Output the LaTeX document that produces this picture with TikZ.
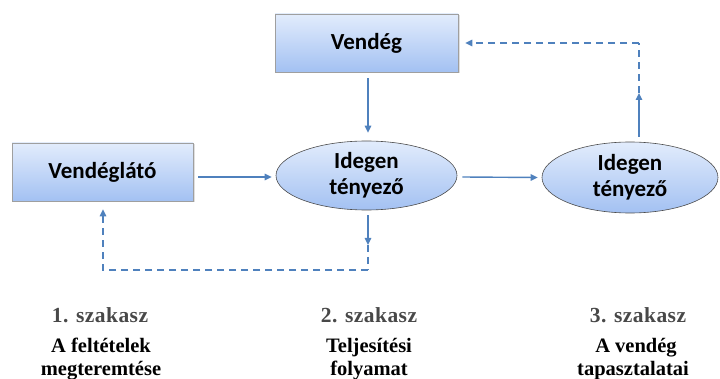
\documentclass[tikz,border=0pt]{standalone}
\usepackage{fontspec}
\setmainfont{Liberation Serif}
\newfontfamily\boxfont{Carlito}
\usetikzlibrary{arrows.meta,shapes.geometric,shadows}

\definecolor{linkblue}{RGB}{79,129,189}
\definecolor{filltop}{RGB}{226,236,252}
\definecolor{fillbottom}{RGB}{163,193,242}
\definecolor{stagegray}{RGB}{72,72,72}

\tikzset{
  actor/.style={rectangle, draw=gray!75, line width=0.7pt,
    top color=filltop, bottom color=fillbottom,
    drop shadow={opacity=0.25, shadow xshift=1.5pt, shadow yshift=-1.5pt},
    inner sep=0pt, font=\boxfont\bfseries\fontsize{23}{25}\selectfont},
  factor/.style={ellipse, draw=gray!60!black, line width=0.6pt,
    top color=filltop, bottom color=fillbottom,
    inner sep=0pt, align=center,
    font=\boxfont\bfseries\fontsize{23}{26}\selectfont},
  flow/.style={draw=linkblue, line width=1.4pt,
    -{Triangle[length=7pt,width=6.5pt]}},
  backflow/.style={flow, dash pattern=on 7pt off 5pt},
  plainflow/.style={draw=linkblue, line width=1.4pt, dash pattern=on 7pt off 5pt},
  stage/.style={anchor=base, text=stagegray,
    font=\bfseries\addfontfeature{LetterSpace=2}\fontsize{21.5}{23}\selectfont},
  phase/.style={anchor=base, font=\bfseries\fontsize{20.5}{23}\selectfont}
}

\begin{document}
\begin{tikzpicture}[x=1pt, y=-1pt]
  \useasboundingbox (0,0) rectangle (720,379);

  % participants
  \node[actor, minimum width=183pt, minimum height=58pt] (vendeg) at (366.5,43) {Vendég};
  \node[actor, minimum width=181pt, minimum height=58pt] (host) at (102.5,172) {Vendéglátó};

  % the two foreign factors
  \node[factor, minimum width=181pt, minimum height=69pt] (e1) at (366.5,175.5) {Idegen\\tényező};
  \node[factor, minimum width=176pt, minimum height=71pt] (e2) at (630,177.5) {Idegen\\tényező};

  % turning points of the feedback routes
  \coordinate (m1) at (368,245);
  \coordinate (c1) at (368,270);
  \coordinate (m2) at (639,93);
  \coordinate (c2) at (639,43);

  % main flow
  \draw[flow] ([shift={(5,5)}]host.east) -- ([shift={(-4,5)}]host.east -| e1.west);
  \draw[flow] ([shift={(5,1.5)}]e1.east) -- ([shift={(-4,0)}]e2.west);
  \draw[flow] ([shift={(1.5,6)}]vendeg.south) -- ([shift={(1.5,-8)}]e1.north);

  % feedback to the host
  \draw[flow] ([shift={(1.5,5)}]e1.south) -- (m1);
  \draw[plainflow] (m1) -- (c1);
  \draw[backflow] (c1) -| ([shift={(0.5,8)}]host.south);

  % feedback to the guest
  \draw[flow] ([shift={(9,-5)}]e2.north) -- (m2);
  \draw[plainflow] (m2) -- (c2);
  \draw[backflow] (c2) -- ([shift={(7,0)}]vendeg.east);

  % stages
  \node[stage] (s1) at (100,322) {1. szakasz};
  \node[phase] (p1a) at (101,352) {A feltételek};
  \node[phase] (p1b) at (101,375) {megteremtése};

  \node[stage] (s2) at (369,322) {2. szakasz};
  \node[phase] (p2a) at (369,352) {Teljesítési};
  \node[phase] (p2b) at (369,375) {folyamat};

  \node[stage] (s3) at (638,322) {3. szakasz};
  \node[phase] (p3a) at (636,352) {A vendég};
  \node[phase] (p3b) at (633,375) {tapasztalatai};
\end{tikzpicture}
\end{document}
